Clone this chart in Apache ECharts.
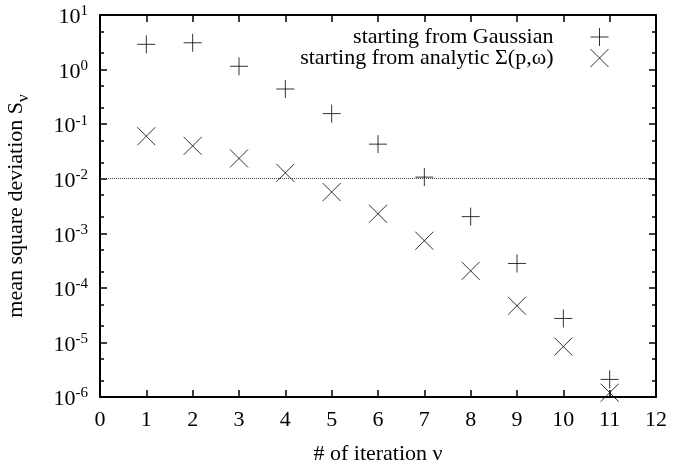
<!DOCTYPE html>
<html>
<head>
<meta charset="utf-8">
<script src="https://cdn.jsdelivr.net/npm/echarts@6/dist/echarts.min.js"></script>
<style>
html,body{margin:0;padding:0;background:#fff;}
#chart{width:673px;height:472px;}
</style>
</head>
<body>
<div id="chart"></div>
<script>
var iterations = [1, 2, 3, 4, 5, 6, 7, 8, 9, 10, 11];
var gaussianValues = [2.9, 3.1, 1.15, 0.44, 0.156, 0.043, 0.0107, 0.00202, 2.8e-4, 2.75e-5, 2.1e-6];
var analyticValues = [0.06, 0.04, 0.0235, 0.0128, 0.0057, 0.00228, 7.3e-4, 2.05e-4, 4.7e-5, 8.4e-6, 1.2e-6];
var seriesNames = ['starting from Gaussian', 'starting from analytic \u03A3(p,\u03C9)'];
var thresholdValue = 0.01;
var xTicks = [0, 1, 2, 3, 4, 5, 6, 7, 8, 9, 10, 11, 12];
var yMajorTicks = [1e-6, 1e-5, 1e-4, 1e-3, 1e-2, 1e-1, 1, 10];
var yMinorTicks = [2e-6, 5e-6, 2e-5, 5e-5, 2e-4, 5e-4, 2e-3, 5e-3, 2e-2, 5e-2, 0.2, 0.5, 2, 5];

var FONT = 'Liberation Serif';
var plusPath = 'path://M0,5L10,5M5,0L5,10';
var crossPath = 'path://M0,0L10,10M0,10L10,0';

function pair(xs, ys) { return xs.map(function (x, i) { return [x, ys[i]]; }); }

var chart = echarts.init(document.getElementById('chart'));

function yAxisBase(pos, major, showLabel) {
  return {
    type: 'log', logBase: 10, min: 1e-6, max: 10, position: pos,
    splitLine: { show: false },
    axisLine: { show: major, lineStyle: { color: '#000', width: 2 } },
    axisTick: { show: true, inside: true, length: major ? 7 : 4,
      lineStyle: { color: '#000', width: 1.5 },
      customValues: major ? yMajorTicks : yMinorTicks },
    axisLabel: showLabel ? {
      show: true, margin: 12, customValues: yMajorTicks,
      fontFamily: FONT, color: '#000',
      formatter: function (v) {
        var e = Math.round(Math.log10(v));
        return '{b|10}{s|' + e + '}';
      },
      rich: {
        b: { fontFamily: FONT, fontSize: 22, color: '#000', lineHeight: 22, padding: [5, 0, 0, 0] },
        s: { fontFamily: FONT, fontSize: 15, color: '#000', lineHeight: 15, verticalAlign: 'top' }
      }
    } : { show: false }
  };
}

var yAxes = [
  yAxisBase('left', true, true),
  yAxisBase('left', false, false),
  yAxisBase('right', true, false),
  yAxisBase('right', false, false)
];
yAxes[0].name = 'mean square deviation S{sub|\u03BD}';
yAxes[0].nameLocation = 'middle';
yAxes[0].nameGap = 68;
yAxes[0].nameTextStyle = {
  fontFamily: FONT, fontSize: 22, color: '#000',
  rich: { sub: { fontFamily: FONT, fontSize: 17, color: '#000', padding: [14, 0, 0, 0] } }
};

function xAxisBase(pos, showLabel) {
  return {
    type: 'value', min: 0, max: 12, interval: 1, position: pos,
    splitLine: { show: false },
    axisLine: { show: true, lineStyle: { color: '#000', width: 2 } },
    axisTick: { show: true, inside: true, length: 7, lineStyle: { color: '#000', width: 1.5 } },
    axisLabel: showLabel ? { show: true, margin: 12, fontFamily: FONT, fontSize: 22, color: '#000',
      customValues: xTicks } : { show: false }
  };
}
var xAxes = [xAxisBase('bottom', true), xAxisBase('top', false)];
xAxes[0].name = '# of iteration \u03BD';
xAxes[0].nameLocation = 'middle';
xAxes[0].nameGap = 46;
xAxes[0].nameTextStyle = { fontFamily: FONT, fontSize: 22, color: '#000' };

var markerStyle = { color: 'transparent', borderColor: '#000', borderWidth: 1 };

chart.setOption({
  animation: false,
  backgroundColor: '#fff',
  grid: { left: 100, right: 17, top: 15, bottom: 75, containLabel: false, outerBoundsMode: 'none' },
  xAxis: xAxes,
  yAxis: yAxes,
  legend: [
    { data: [seriesNames[0]], right: 64, top: 26, padding: 0, align: 'right', orient: 'vertical',
      itemWidth: 18, itemHeight: 18, icon: plusPath, itemStyle: markerStyle,
      textStyle: { fontFamily: FONT, fontSize: 22, color: '#000', padding: [0, 32, 0, 0] } },
    { data: [seriesNames[1]], right: 64, top: 47, padding: 0, align: 'right', orient: 'vertical',
      itemWidth: 18, itemHeight: 18, icon: crossPath, itemStyle: markerStyle,
      textStyle: { fontFamily: FONT, fontSize: 22, color: '#000', padding: [0, 32, 0, 0] } }
  ],
  series: [
    { name: seriesNames[0], type: 'scatter', xAxisIndex: 0, yAxisIndex: 0,
      symbol: plusPath, symbolSize: 18, itemStyle: markerStyle,
      data: pair(iterations, gaussianValues),
      markLine: { silent: true, symbol: 'none', label: { show: false },
        lineStyle: { color: '#444', type: 'dotted', width: 1 },
        data: [{ yAxis: thresholdValue }] } },
    { name: seriesNames[1], type: 'scatter', xAxisIndex: 0, yAxisIndex: 0,
      symbol: crossPath, symbolSize: 18, itemStyle: markerStyle,
      data: pair(iterations, analyticValues) }
  ]
});
</script>
</body>
</html>
